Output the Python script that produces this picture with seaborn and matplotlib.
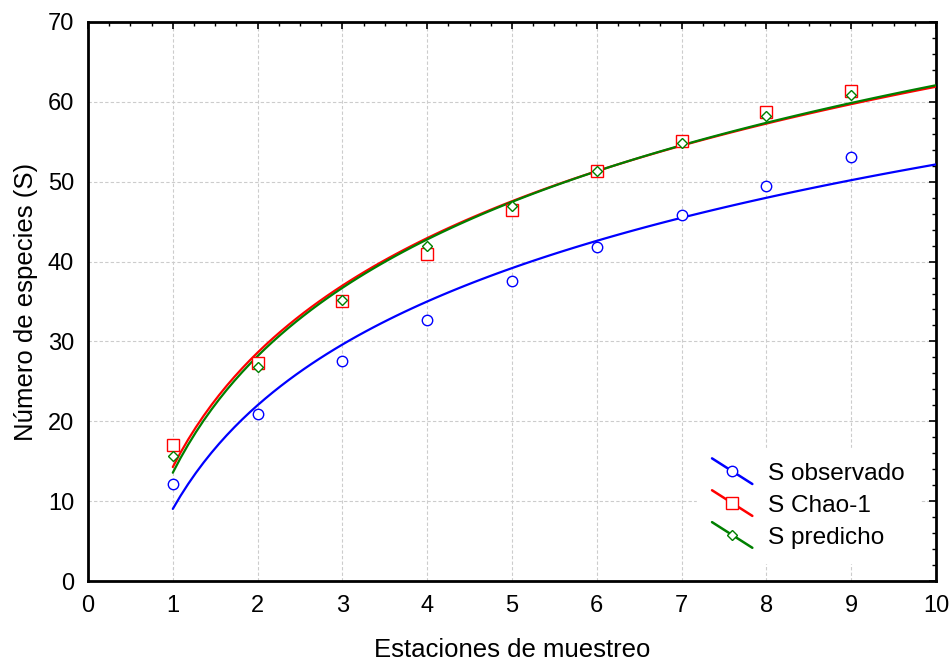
import numpy as np
import pandas as pd
import seaborn as sns
import matplotlib
matplotlib.use("Agg")
import matplotlib.pyplot as plt
from matplotlib.lines import Line2D
from matplotlib.legend_handler import HandlerLine2D
from matplotlib.ticker import MultipleLocator

# ---- data ----
estaciones = [1, 2, 3, 4, 5, 6, 7, 8, 9]
s_observado = [12.1, 20.9, 27.6, 32.7, 37.6, 41.8, 45.8, 49.5, 53.1]
s_chao1 = [17.0, 27.3, 35.1, 41.0, 46.4, 51.3, 55.1, 58.7, 61.3]
s_predicho = [15.6, 26.8, 35.2, 41.9, 47.0, 51.4, 54.9, 58.2, 60.8]
series_names = ["S observado", "S Chao-1", "S predicho"]
x_ticks = [0, 1, 2, 3, 4, 5, 6, 7, 8, 9, 10]
y_ticks = [0, 10, 20, 30, 40, 50, 60, 70]

sns.set_style("white")
plt.rcParams["font.family"] = ["Liberation Sans", "DejaVu Sans"]
plt.rcParams["text.color"] = "black"
plt.rcParams["axes.labelcolor"] = "black"

fig = plt.figure(figsize=(9.51, 6.62), dpi=100)
ax = fig.add_axes([88 / 951, 1 - 581 / 662, (936 - 88) / 951, (581 - 22) / 662])

df = pd.DataFrame({"x": estaciones, "obs": s_observado,
                   "chao": s_chao1, "pred": s_predicho})

styles = [
    ("obs", "#0000ff", "o", 7.5),
    ("chao", "#ff0000", "s", 8.0),
    ("pred", "#008000", "D", 5.5),
]

# fitted logarithmic curves from x=1 to x=10
ax.set_xlim(1, 10)
for col, color, marker, ms in styles:
    sns.regplot(data=df, x="x", y=col, logx=True, ci=None, scatter=False,
                truncate=False, ax=ax, color=color,
                line_kws=dict(lw=1.6, color=color, zorder=3))

for col, color, marker, ms in styles:
    ax.plot(df["x"], df[col], linestyle="none", marker=marker, ms=ms,
            mfc="white", mec=color, mew=1.0, zorder=4)

ax.set_xlim(0, 10)
ax.set_ylim(0, 70)
ax.set_xticks(x_ticks)
ax.set_yticks(y_ticks)
ax.xaxis.set_minor_locator(MultipleLocator(0.25))
ax.yaxis.set_minor_locator(MultipleLocator(2))
ax.tick_params(which="both", direction="in", top=True, right=True,
               colors="black", labelsize=17)
ax.tick_params(which="major", length=5, width=1.2, pad=10)
ax.tick_params(which="minor", length=3, width=1.0)
ax.grid(True, which="major", color="#cccccc", linestyle=(0, (3, 2)), lw=0.8)
for sp in ax.spines.values():
    sp.set_color("black")
    sp.set_linewidth(2)

ax.set_xlabel("Estaciones de muestreo", fontsize=18.5, labelpad=15)
ax.set_ylabel("Número de especies (S)", fontsize=18.5, labelpad=7)


class DiagHandler(HandlerLine2D):
    def create_artists(self, legend, orig_handle, xdescent, ydescent,
                       width, height, fontsize, trans):
        x0, x1 = -xdescent, width - xdescent
        yc = height / 2 - ydescent
        dy = height * 0.75
        line = Line2D([x0, x1], [yc + dy, yc - dy], color=orig_handle.get_color(),
                      lw=1.8)
        mk = Line2D([(x0 + x1) / 2], [yc], linestyle="none",
                    marker=orig_handle.get_marker(),
                    ms=orig_handle.get_markersize(),
                    mfc="white", mec=orig_handle.get_color(), mew=1.0)
        line.set_transform(trans)
        mk.set_transform(trans)
        return [line, mk]


handles = [Line2D([], [], color=c, marker=m, ms=ms) for _, c, m, ms in styles]
leg = ax.legend(handles, series_names, loc="lower right",
                bbox_to_anchor=(0.995, 0.01), fontsize=17.6,
                handler_map={Line2D: DiagHandler()},
                handlelength=1.65, handletextpad=0.65, labelspacing=0.4,
                frameon=True, facecolor="white", edgecolor="white",
                framealpha=1, fancybox=False, borderpad=0.6)
leg.set_zorder(5)

fig.savefig("out.png", dpi=100)
